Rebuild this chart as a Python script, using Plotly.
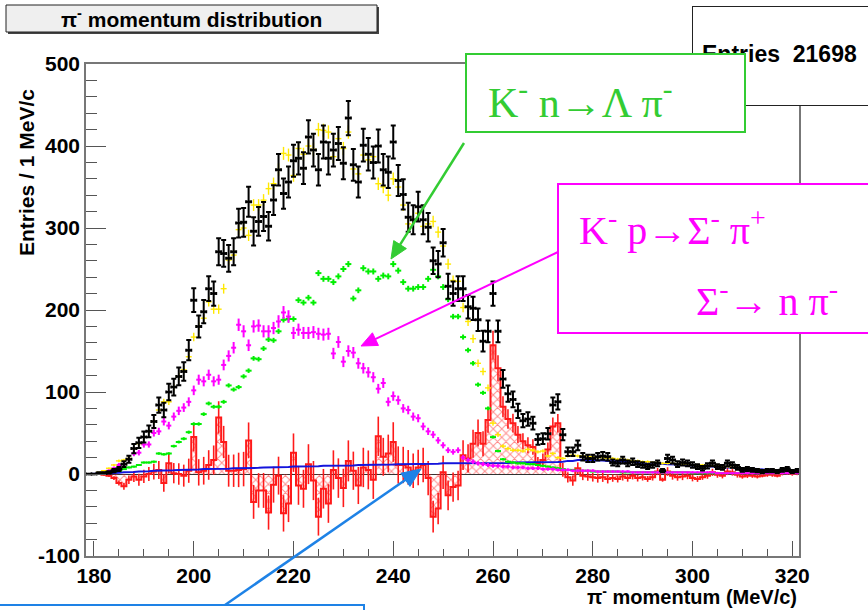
import numpy as np
import plotly.graph_objects as go

# ---------------- data (1 MeV/c bins, centres 179 ... 321) ----------------
momentum = list(range(179, 322))

data_entries = [
    0, 0, 1, 1, 2, 4, 6, 12, 18, 31,
    38, 45, 52, 64, 84, 78, 100, 106, 119, 125,
    151, 212, 180, 198, 226, 220, 271, 269, 263, 271,
    306, 307, 332, 296, 308, 314, 302, 334, 371, 342,
    356, 382, 385, 373, 411, 395, 371, 405, 385, 395,
    403, 379, 434, 377, 356, 401, 390, 380, 400, 371,
    368, 405, 358, 341, 313, 310, 326, 310, 301, 260,
    256, 282, 229, 220, 226, 226, 204, 202, 188, 162,
    174, 220, 174, 116, 98, 91, 77, 65, 67, 62,
    42, 43, 49, 84, 88, 48, 27, 27, 35, 21,
    19, 19, 21, 22, 21, 14, 13, 17, 13, 15,
    12, 11, 9, 11, 13, 4, 19, 17, 12, 14,
    13, 11, 9, 7, 10, 13, 9, 8, 13, 11,
    8, 5, 6, 5, 4, 3, 4, 4, 3, 5,
    6, 3, 4]

mc_total = [
    0, 0, 2, 4, 7, 11, 16, 17, 19, 31,
    37, 45, 52, 64, 78, 88, 88, 106, 119, 127,
    143, 167, 180, 190, 210, 201, 201, 226, 261, 267,
    298, 300, 291, 328, 328, 334, 348, 354, 371, 391,
    389, 364, 397, 390, 400, 396, 420, 419, 417, 387,
    409, 397, 417, 372, 366, 389, 383, 387, 354, 350,
    340, 360, 350, 328, 305, 310, 318, 302, 305, 308,
    295, 278, 256, 236, 235, 203, 186, 165, 135, 125,
    105, 62, 48, 34, 31, 29, 29, 28, 30, 29,
    27, 28, 22, 25, 20, 19, 22, 23, 22, 22,
    21, 21, 20, 20, 19, 19, 18, 18, 17, 16,
    16, 15, 15, 14, 14, 13, 13, 13, 12, 12,
    12, 11, 11, 11, 10, 10, 10, 9, 9, 8,
    8, 7, 7, 6, 6, 5, 5, 5, 4, 4,
    4, 3, 3]

lambda_pi = [
    0, 0, 0, 1, 2, 3, 4, 6, 8, 9,
    11, 14, 14, 15, 25, 24, 25, 34, 39, 43,
    51, 61, 61, 73, 86, 82, 82, 88, 108, 103,
    106, 119, 126, 141, 140, 153, 164, 163, 174, 188,
    189, 189, 212, 209, 215, 209, 245, 238, 238, 234,
    241, 250, 256, 214, 224, 251, 247, 247, 238, 242,
    241, 256, 248, 234, 226, 226, 228, 228, 238, 249,
    241, 228, 213, 192, 192, 167, 151, 135, 109, 99,
    80, 45, 28, 18, 15, 14, 13, 13, 12, 12,
    11, 10, 9, 8, 7, 6, 5, 5, 4, 4,
    4, 3, 3, 3, 3, 3, 3, 2, 2, 2,
    2, 2, 2, 2, 2, 2, 2, 2, 2, 2,
    2, 1, 1, 1, 1, 1, 1, 1, 1, 1,
    1, 1, 1, 1, 1, 1, 1, 1, 1, 1,
    1, 1, 1]

sigma_pi = [
    0, 0, 1, 2, 4, 7, 11, 12, 18, 25,
    26, 36, 36, 50, 52, 64, 59, 70, 77, 81,
    88, 102, 115, 113, 121, 113, 115, 133, 144, 154,
    182, 174, 157, 180, 181, 174, 174, 178, 186, 197,
    192, 172, 176, 172, 172, 173, 171, 170, 171, 147,
    161, 137, 150, 148, 135, 129, 124, 118, 104, 111,
    88, 95, 90, 80, 78, 70, 68, 58, 52, 48,
    41, 35, 29, 27, 29, 20, 17, 15, 13, 12,
    11, 10, 10, 9, 9, 8, 8, 8, 7, 7,
    7, 6, 6, 6, 5, 5, 5, 4, 4, 4,
    4, 4, 3, 3, 3, 3, 3, 3, 3, 2,
    2, 2, 2, 2, 2, 2, 2, 2, 2, 2,
    2, 2, 2, 2, 2, 2, 1, 1, 1, 1,
    1, 1, 1, 1, 1, 1, 1, 1, 1, 1,
    1, 1, 1]

background = [
    0, 0, 0, 0.5, 1, 1, 1.5, 2, 2, 2.5,
    3, 3, 3.5, 4, 4, 4, 4.5, 4.5, 5, 5,
    5, 5.5, 5.5, 6, 6, 6, 6, 6.5, 6.5, 7,
    7, 7, 7, 7.5, 7.5, 8, 8, 8, 8, 8.5,
    8.5, 9, 9, 9, 9.5, 9.5, 9.5, 10, 10, 10,
    10, 10.5, 10.5, 10.5, 11, 11, 11, 11, 11, 11.5,
    11.5, 11.5, 12, 12, 12, 12, 12, 12.5, 12.5, 12.5,
    12.5, 13, 13, 13, 13, 13, 13, 13, 13, 13,
    13, 13, 13.5, 13.5, 13.5, 14, 14, 14, 14, 14,
    14, 14, 14, 14, 14.5, 15, 16, 16, 17, 17,
    17, 17, 17, 16.5, 16, 16, 15.5, 15, 15, 14.5,
    14, 14, 13.5, 13, 13, 12.5, 12, 12, 11.5, 11,
    11, 10.5, 10, 10, 9.5, 9, 9, 8.5, 8, 8,
    7.5, 7, 7, 6.5, 6, 5.5, 5, 5, 4.5, 4,
    4, 3.5, 3]

residual = [
    0, 0, 0, -1, -2, -5, -11, -15, -7, -3,
    -7, -3, 0, 3, 5, -11, 13, 1, 0, -2,
    4, 45, 2, 4, 11, 17, 69, 39, 4, 4,
    5, 6, 41, -34, -20, -20, -47, -13, -2, -48,
    -36, 26, -14, -18, 12, -8, -52, -18, -36, 5,
    -5, -17, 16, 4, -14, 8, 5, -7, 46, 21,
    25, 39, 11, 11, 8, 4, 8, 11, -5, -52,
    -42, 2, -26, -16, -14, 23, 19, 37, 50, 37,
    66, 157, 129, 82, 67, 62, 48, 40, 35, 33,
    13, 17, 30, 58, 62, 5, -4, -8, 7, -2,
    -3, -4, -5, -4, -6, -5, -6, -3, -5, -2,
    -5, -4, -6, -4, 3, -7, 3, -2, -4, -3,
    -2, -5, -6, -4, -2, 2, -1, -2, 3, 2,
    -1, -3, -2, -2, -3, -2, -1, -1, -2, 1,
    2, 0, 1]

x_ticks = [180, 200, 220, 240, 260, 280, 300, 320]
y_ticks = [-100, 0, 100, 200, 300, 400, 500]

# ---------------- geometry helpers (figure pixels -> paper) ----------------
W, H = 868, 610
L, R, T, B = 86, 799, 64, 556


def px(x):
    return (x - L) / (R - L)


def py(y):
    return (B - y) / (B - T)


data_err = np.sqrt(np.array(data_entries, dtype=float))
mc_err = 0.4 * np.sqrt(np.array(mc_total, dtype=float))
res_err = 1.2 * np.sqrt(np.array(data_entries, dtype=float))
lam_err = 0.2 * np.sqrt(np.array(lambda_pi, dtype=float)) + 0.5
sig_err = 0.5 * np.sqrt(np.array(sigma_pi, dtype=float)) + 0.8

RED = "#ff1a1a"
GREEN_TXT = "#33cc33"
BLUE_ARROW = "#1e82e6"

fig = go.Figure()

# residual: hatched histogram
fig.add_trace(go.Bar(
    x=momentum, y=residual, width=1.0,
    marker=dict(color="rgba(0,0,0,0)", line=dict(width=0),
                pattern=dict(shape="x", fgcolor=RED, bgcolor="rgba(0,0,0,0)",
                             size=6, solidity=0.3, fillmode="overlay")),
    hoverinfo="skip"))
fig.add_trace(go.Scatter(
    x=momentum, y=residual, mode="lines", line=dict(color=RED, width=2, shape="hvh"),
    hoverinfo="skip"))
fig.add_trace(go.Scatter(
    x=momentum, y=residual, mode="markers", marker=dict(size=1, color=RED),
    error_y=dict(type="data", array=res_err, color=RED, thickness=1.6, width=0),
    hoverinfo="skip"))

# background (blue)
fig.add_trace(go.Scatter(
    x=momentum, y=background, mode="lines", line=dict(color="#1414dc", width=2),
    hoverinfo="skip"))

# Lambda pi- component (green)
fig.add_trace(go.Scatter(
    x=momentum, y=lambda_pi, mode="markers", marker=dict(size=1, color="#00ee00"),
    error_x=dict(type="constant", value=0.6, color="#00ee00", thickness=2, width=0),
    error_y=dict(type="data", array=lam_err, color="#00ee00", thickness=2, width=0),
    hoverinfo="skip"))

# Sigma- pi+ component (magenta)
fig.add_trace(go.Scatter(
    x=momentum, y=sigma_pi, mode="markers", marker=dict(size=1, color="#ff00ff"),
    error_x=dict(type="constant", value=0.5, color="#ff00ff", thickness=2, width=0),
    error_y=dict(type="data", array=sig_err, color="#ff00ff", thickness=2, width=0),
    hoverinfo="skip"))

# MC sum (yellow)
fig.add_trace(go.Scatter(
    x=momentum, y=mc_total, mode="markers", marker=dict(size=1, color="#ffe800"),
    error_x=dict(type="constant", value=0.6, color="#ffe800", thickness=1.4, width=0),
    error_y=dict(type="data", array=mc_err, color="#ffe800", thickness=1.4, width=0),
    hoverinfo="skip"))

# data (black)
fig.add_trace(go.Scatter(
    x=momentum, y=data_entries, mode="markers", marker=dict(size=3, color="black"),
    error_x=dict(type="constant", value=0.5, color="black", thickness=2, width=1.5),
    error_y=dict(type="data", array=data_err, color="black", thickness=2, width=2.5),
    hoverinfo="skip"))

axis_font = dict(family="Liberation Sans", size=21, color="black", weight="bold")

fig.update_xaxes(
    range=[178.4, 321.35], tickmode="array", tickvals=x_ticks,
    ticktext=[str(v) for v in x_ticks], ticks="inside", ticklen=15, tickwidth=1.2,
    tickcolor="#555", minor=dict(dtick=5, tick0=180, ticks="inside", ticklen=7,
                                  tickwidth=1.2, tickcolor="#555"),
    showline=True, linecolor="#777", linewidth=1.5, mirror=True,
    showgrid=False, zeroline=False, tickfont=axis_font)
fig.update_yaxes(
    range=[-100, 500], tickmode="array", tickvals=y_ticks,
    ticktext=[str(v) for v in y_ticks], ticks="inside", ticklen=20, tickwidth=1.2,
    tickcolor="#555", minor=dict(dtick=20, tick0=0, ticks="inside", ticklen=11,
                                  tickwidth=1.2, tickcolor="#555"),
    showline=True, linecolor="#777", linewidth=1.5, mirror=True,
    showgrid=False, zeroline=True, zerolinecolor="#333", zerolinewidth=1,
    tickfont=axis_font)

shapes = []
annotations = []


def arrow(x0, y0, x1, y1, color, lw, hl, hw):
    d = np.array([x1 - x0, y1 - y0], dtype=float)
    u = d / np.linalg.norm(d)
    p = np.array([-u[1], u[0]])
    base = np.array([x1, y1]) - hl * u
    c1 = base + hw / 2 * p
    c2 = base - hw / 2 * p
    shapes.append(dict(type="line", xref="paper", yref="paper",
                       x0=px(x0), y0=py(y0), x1=px(base[0] + 2 * u[0]), y1=py(base[1] + 2 * u[1]),
                       line=dict(color=color, width=lw), layer="above"))
    path = (f"M {px(x1)},{py(y1)} L {px(c1[0])},{py(c1[1])} "
            f"L {px(c2[0])},{py(c2[1])} Z")
    shapes.append(dict(type="path", xref="paper", yref="paper", path=path,
                       fillcolor=color, line=dict(color=color, width=1), layer="above"))


# title box with shadow
shapes.append(dict(type="rect", xref="paper", yref="paper",
                   x0=px(8), y0=py(7), x1=px(379), y1=py(34),
                   fillcolor="#444", line=dict(width=0), layer="above"))
shapes.append(dict(type="rect", xref="paper", yref="paper",
                   x0=px(6), y0=py(5), x1=px(377), y1=py(32),
                   fillcolor="#efefef", line=dict(color="#222", width=1), layer="above"))

# blue box at the bottom
shapes.append(dict(type="rect", xref="paper", yref="paper",
                   x0=px(-10), y0=py(605), x1=px(364), y1=py(625),
                   fillcolor="white", line=dict(color=BLUE_ARROW, width=2), layer="above"))

arrow(464, 143, 391, 259, GREEN_TXT, 2.5, 17, 15)
arrow(558, 252, 361, 346, "#ff00ff", 2, 16, 14)
arrow(225, 605, 421, 469, BLUE_ARROW, 2.5, 19, 16)

# title text
annotations.append(dict(xref="paper", yref="paper", x=px(191.5), y=py(18.5),
                        xanchor="center", yanchor="middle", showarrow=False,
                        text="π<sup>-</sup> momentum distribution",
                        font=dict(family="Liberation Sans", size=21, color="black",
                                  weight="bold")))

# stats box
annotations.append(dict(xref="paper", yref="paper", x=px(691.5), y=py(5.5),
                        xanchor="left", yanchor="top", showarrow=False, text=" ",
                        width=200, height=98, borderpad=0, borderwidth=1,
                        bordercolor="#222", bgcolor="white"))
annotations.append(dict(xref="paper", yref="paper", x=px(700), y=py(54),
                        xanchor="left", yanchor="middle", showarrow=False,
                        text="Entries  21698",
                        font=dict(family="Liberation Sans", size=23, color="black",
                                  weight="bold")))

# green label box
annotations.append(dict(xref="paper", yref="paper", x=px(465), y=py(53),
                        xanchor="left", yanchor="top", showarrow=False, text=" ",
                        width=277, height=76, borderpad=0, borderwidth=2,
                        bordercolor=GREEN_TXT, bgcolor="white"))
annotations.append(dict(xref="paper", yref="paper", x=px(486), y=py(99),
                        xanchor="left", yanchor="middle", showarrow=False,
                        text="K<sup>-</sup> n→Λ π<sup>-</sup>",
                        font=dict(family="Liberation Serif", size=42, color=GREEN_TXT)))

# magenta label box
annotations.append(dict(xref="paper", yref="paper", x=px(557), y=py(183),
                        xanchor="left", yanchor="top", showarrow=False, text=" ",
                        width=330, height=147, borderpad=0, borderwidth=2,
                        bordercolor="#ff00ff", bgcolor="white"))
annotations.append(dict(xref="paper", yref="paper", x=px(577), y=py(227),
                        xanchor="left", yanchor="middle", showarrow=False,
                        text="K<sup>-</sup> p→Σ<sup>-</sup> π<sup>+</sup>",
                        font=dict(family="Liberation Serif", size=40, color="#ff00ff")))
annotations.append(dict(xref="paper", yref="paper", x=px(694), y=py(298),
                        xanchor="left", yanchor="middle", showarrow=False,
                        text="Σ<sup>-</sup>→ n π<sup>-</sup>",
                        font=dict(family="Liberation Serif", size=40, color="#ff00ff")))

# axis titles
annotations.append(dict(xref="paper", yref="paper", x=px(799), y=py(610),
                        xanchor="right", yanchor="bottom", showarrow=False,
                        text="π<sup>-</sup> momentum (MeV/c)",
                        font=dict(family="Liberation Sans", size=20, color="black",
                                  weight="bold")))
annotations.append(dict(xref="paper", yref="paper", x=px(26), y=py(173),
                        xanchor="center", yanchor="middle", showarrow=False,
                        textangle=-90, text="Entries / 1 MeV/c",
                        font=dict(family="Liberation Sans", size=21, color="black",
                                  weight="bold")))

fig.update_layout(
    width=W, height=H, autosize=False,
    margin=dict(l=L, r=W - R, t=T, b=H - B, pad=0),
    paper_bgcolor="white", plot_bgcolor="white",
    showlegend=False, bargap=0, barmode="overlay",
    shapes=shapes, annotations=annotations)

fig.write_html("out.html", config={"displayModeBar": False},
               post_script="document.body.style.margin='0px';")
